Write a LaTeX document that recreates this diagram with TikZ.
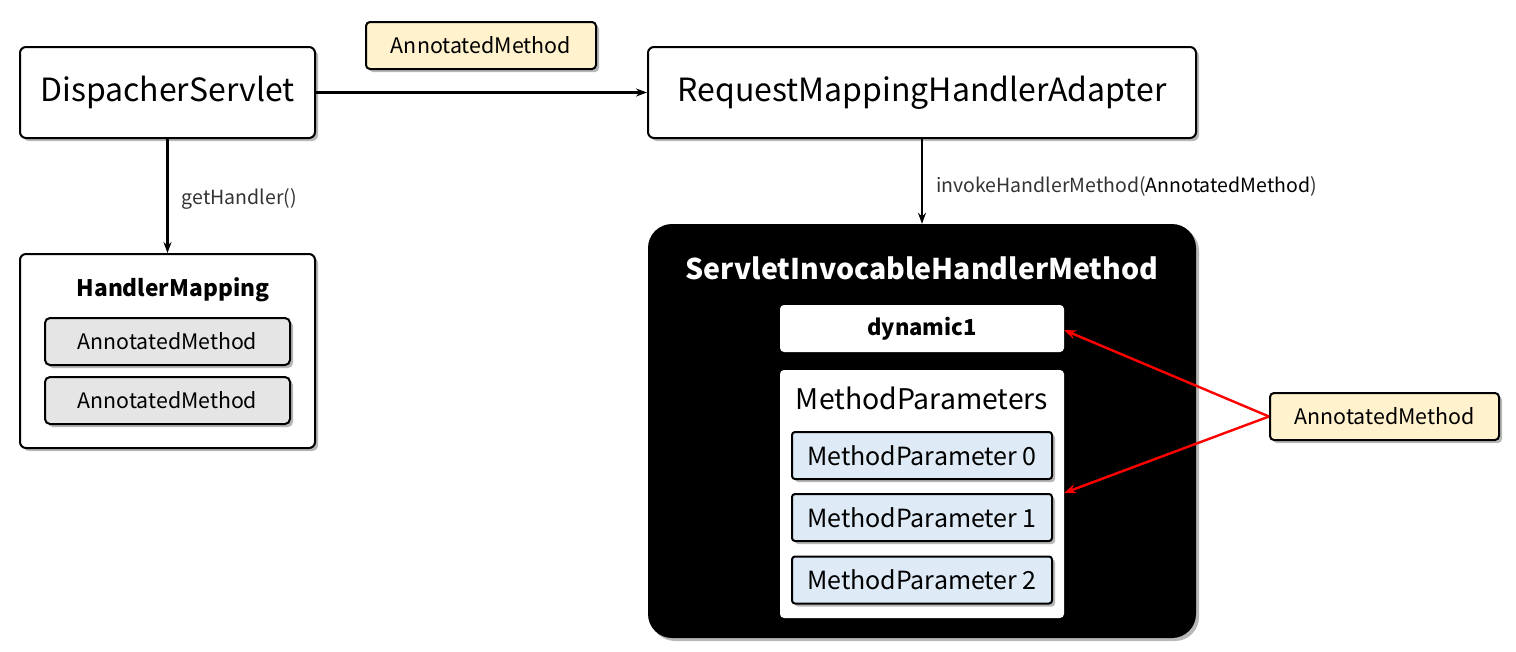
\documentclass[tikz,border=0pt]{standalone}
\usepackage{fontspec}
\setmainfont{Noto Sans CJK KR}
\usetikzlibrary{shadows,arrows.meta}
\begin{document}
\begin{tikzpicture}[x=1pt,y=-1pt,
  box/.style={draw=black,line width=2pt,rounded corners=6pt,fill=white,
    drop shadow={shadow xshift=3pt,shadow yshift=-3pt,fill=black!35,opacity=.8}},
  grey/.style={box,fill=gray!20,rounded corners=5pt},
  blu/.style={box,fill=bluec,rounded corners=3pt},
  wbox/.style={fill=white,rounded corners=4pt},
  arr/.style={-{Stealth[length=11pt,width=8pt]},line width=2.2pt},
  rarr/.style={-{Stealth[length=12pt,width=9pt]},line width=2.4pt,draw=red},
  lbl/.style={font=\fontsize{19.5}{19.5}\selectfont,text=black!80},
]
\definecolor{ymc}{HTML}{FFF2CC}
\definecolor{bluec}{HTML}{DEEAF6}
\useasboundingbox (0,0) rectangle (1516,651);
% boxes
\node[box,minimum width=295pt,minimum height=91pt] (ds) at (167.5,92.5) {};
\node[font=\fontsize{32}{32}\selectfont] at (ds) {DispacherServlet};
\node[box,fill=ymc,minimum width=230pt,minimum height=47pt,rounded corners=4pt] (am1) at (481,45.5) {};
\node[font=\fontsize{21.4}{21.4}\selectfont] at (am1) {AnnotatedMethod};
\node[box,minimum width=548pt,minimum height=91pt] (rm) at (922,92.5) {};
\node[font=\fontsize{32}{32}\selectfont] at (rm) {RequestMappingHandlerAdapter};
% handler mapping
\node[box,minimum width=295pt,minimum height=194pt] (hm) at (167.5,351) {};
\node[font=\bfseries\fontsize{22.7}{22.7}\selectfont] (hmt) at (173,290) {HandlerMapping};
\node[grey,minimum width=245pt,minimum height=47pt] (g1) at (167.5,341.5) {};
\node[font=\fontsize{21.3}{21.3}\selectfont] at (g1) {AnnotatedMethod};
\node[grey,minimum width=245pt,minimum height=47pt] (g2) at (167.5,400.5) {};
\node[font=\fontsize{21.3}{21.3}\selectfont] at (g2) {AnnotatedMethod};
% black box
\node[fill=black,rounded corners=24pt,minimum width=548pt,minimum height=414pt,
  drop shadow={shadow xshift=3pt,shadow yshift=-3pt,fill=black!35,opacity=.8}] (sih) at (922,431) {};
\node[text=white,font=\bfseries\fontsize{28.5}{28.5}\selectfont] at (922,268) {ServletInvocableHandlerMethod};
\node[wbox,minimum width=284pt,minimum height=47pt] (dyn) at (922,328.5) {};
\node[font=\bfseries\fontsize{22}{22}\selectfont] at (dyn) {dynamic1};
\node[wbox,minimum width=284pt,minimum height=248pt] (mps) at (922,494) {};
\node[font=\fontsize{28.4}{28.4}\selectfont] at (922,398) {MethodParameters};
\node[blu,minimum width=260pt,minimum height=47pt] (mp0) at (922,455.5) {};
\node[font=\fontsize{25}{25}\selectfont] at (mp0) {MethodParameter 0};
\node[blu,minimum width=260pt,minimum height=47pt] (mp1) at (922,517.5) {};
\node[font=\fontsize{25}{25}\selectfont] at (mp1) {MethodParameter 1};
\node[blu,minimum width=260pt,minimum height=47pt] (mp2) at (922,580) {};
\node[font=\fontsize{25}{25}\selectfont] at (mp2) {MethodParameter 2};
% right annotated
\node[box,fill=ymc,minimum width=229pt,minimum height=47pt,rounded corners=4pt] (am2) at (1384.5,416.5) {};
\node[font=\fontsize{21.4}{21.4}\selectfont] at (am2) {AnnotatedMethod};
% connectors
\draw[arr] (ds.east) -- (rm.west);
\draw[arr] (ds.south) -- (hm.north) node[midway,right=10pt,yshift=-3pt,lbl] {getHandler()};
\draw[arr] (rm.south) -- (sih.north) node[midway,right=10pt,yshift=-5pt,lbl] {invokeHandlerMethod(\textcolor{black}{AnnotatedMethod})};
\coordinate (ra) at (1064,330);
\coordinate (rb) at (1064,493);
\draw[rarr] (am2.west) -- (ra);
\draw[rarr] (am2.west) -- (rb);
\end{tikzpicture}
\end{document}
